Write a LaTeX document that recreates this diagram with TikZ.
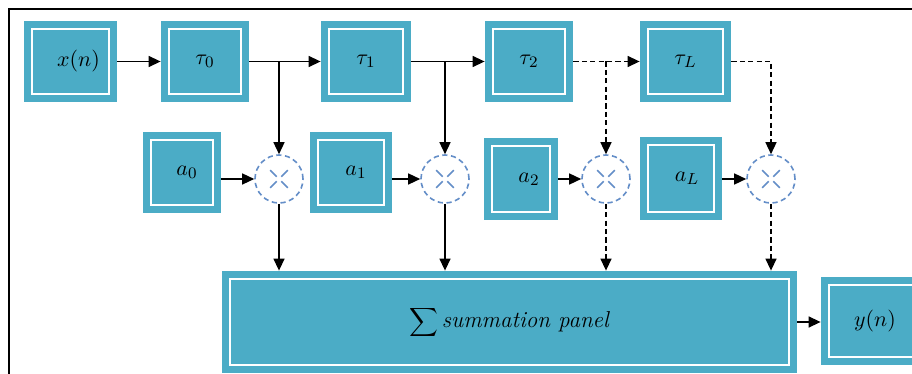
\documentclass[tikz,border=0pt]{standalone}
\usetikzlibrary{arrows.meta}
\definecolor{tealbox}{RGB}{75,172,198}
\definecolor{circblue}{RGB}{100,142,200}
\newcommand{\lowered}[1]{\raisebox{-2pt}{#1}}
\tikzset{
  blk/.style={fill=tealbox, draw=none, inner sep=0pt, font=\fontsize{11}{12}\selectfont,
    path picture={\draw[white,line width=1.4pt]
      ([shift={(4pt,4pt)}]path picture bounding box.south west) rectangle
      ([shift={(-4pt,-4pt)}]path picture bounding box.north east);}},
  mul/.style={circle, draw=circblue, line width=0.8pt, dash pattern=on 2.6pt off 1.8pt,
    minimum size=24pt, inner sep=0pt,
    path picture={
      \foreach \ang in {45,135,225,315}{
        \draw[circblue, line width=0.8pt, solid] (path picture bounding box.center)
          ++(\ang:1.6pt) -- ++(\ang:4.6pt);}}},
  arr/.style={-{Triangle[length=6pt,width=5.5pt]}, line width=0.7pt, black},
  dsh/.style={dash pattern=on 2.6pt off 1.6pt}
}
\begin{document}
\begin{tikzpicture}[x=0.5pt,y=-0.5pt]
\path[use as bounding box, clip] (0,0) rectangle (912,374);
\fill[white] (0,0) rectangle (912,374);
\draw[line width=1pt] (9,374) -- (9,9.5) -- (912,9.5);

% top row
\node[blk, minimum width=46.5pt, minimum height=40.5pt] (xn) at (70.5,61.5) {\kern8pt\lowered{$x(n)$}};
\node[blk, minimum width=44pt, minimum height=40.5pt] (t0) at (205,61.5) {\lowered{$\tau_0$}};
\node[blk, minimum width=45pt, minimum height=40.5pt] (t1) at (366,61.5) {\lowered{$\tau_1$}};
\node[blk, minimum width=44pt, minimum height=40.5pt] (t2) at (529,61.5) {\lowered{$\tau_2$}};
\node[blk, minimum width=45.5pt, minimum height=40.5pt] (tL) at (685.5,61.5) {\lowered{$\tau_L$}};

% second row
\node[blk, minimum width=39pt, minimum height=40.5pt] (a0) at (182,172.5) {\kern5pt\lowered{$a_0$}};
\node[blk, minimum width=41pt, minimum height=40.5pt] (a1) at (351,172.5) {\kern5pt\lowered{$a_1$}};
\node[blk, minimum width=37pt, minimum height=41pt] (a2) at (521,179) {\kern8pt\lowered{$a_2$}};
\node[blk, minimum width=41pt, minimum height=41.5pt] (aL) at (681,178.5) {\kern6pt\lowered{$a_L$}};

\node[mul] (c0) at (279,179) {};
\node[mul] (c1) at (445,179) {};
\node[mul] (c2) at (606,179) {};
\node[mul] (cL) at (771,179) {};

% bottom row
\node[blk, minimum width=287.5pt, minimum height=51pt] (sum) at (509.5,322)
  {$\displaystyle\sum$\kern2pt\fontsize{11.5}{13}\selectfont\textit{summation panel}};
\node[blk, minimum width=54pt, minimum height=44pt] (yn) at (875,321) {$y(n)$};

% connectors
\draw[arr] (xn) -- (t0);
\draw[arr] (t0) -- (t1);
\draw[arr] (t1) -- (t2);
\draw[arr,dsh] (t2) -- (tL);
\draw[arr] (c0 |- t0.east) -- (c0.north);
\draw[arr] (c1 |- t1.east) -- (c1.north);
\draw[arr,dsh] (c2 |- t2.east) -- (c2.north);
\draw[arr,dsh] (tL.east) -| (cL.north);

\draw[arr] (a0.east |- c0) -- (c0.west);
\draw[arr] (a1.east |- c1) -- (c1.west);
\draw[arr] (a2.east |- c2) -- (c2.west);
\draw[arr] (aL.east |- cL) -- (cL.west);

\draw[arr] (c0.south) -- (c0 |- sum.north);
\draw[arr] (c1.south) -- (c1 |- sum.north);
\draw[arr,dsh] (c2.south) -- (c2 |- sum.north);
\draw[arr,dsh] (cL.south) -- (cL |- sum.north);

\draw[arr] (sum.east) -- (sum.east -| yn.west);
\end{tikzpicture}
\end{document}
